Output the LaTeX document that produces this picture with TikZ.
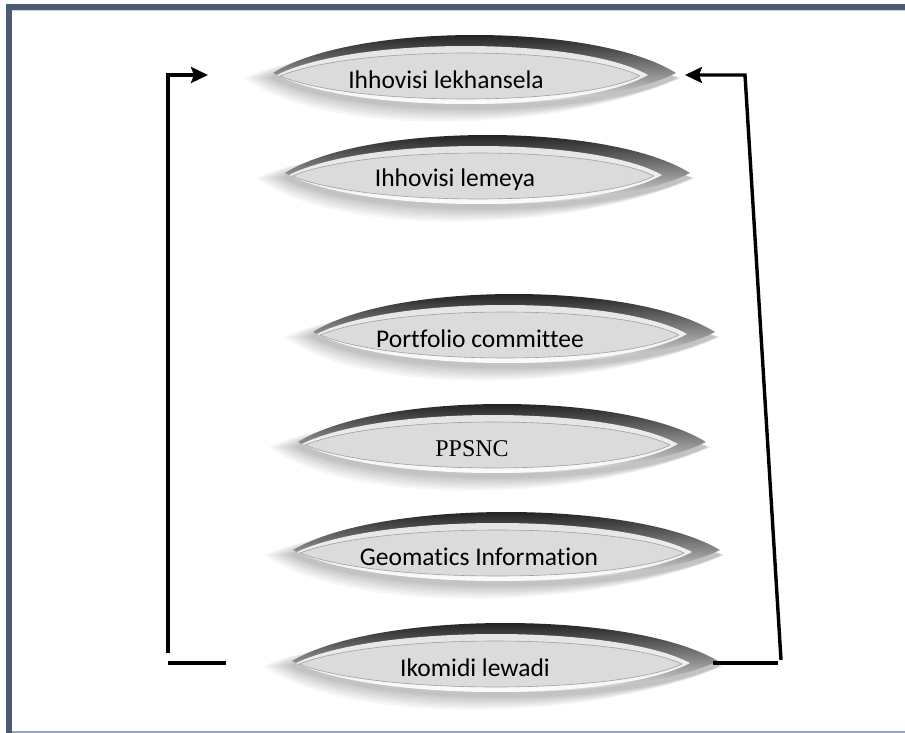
\documentclass[tikz,border=0pt]{standalone}
\usepackage{fontspec}
\setmainfont[Ligatures=NoCommon]{Carlito}
\newfontfamily\serifface{Liberation Serif}
\usetikzlibrary{arrows.meta}

\definecolor{framecol}{HTML}{4B5B75}
\definecolor{framebot}{HTML}{9AA5B5}
\definecolor{facegray}{HTML}{DBDBDB}
\definecolor{bezelgray}{HTML}{E2E2E2}

% pointed oval: left x, right x, tip y, height above tips, depth below tips
\newcommand\lensshape[5]{%
  (#1,#3) .. controls ({#1+0.2*(#2-#1)},{#3-1.333*#4}) and ({#1+0.8*(#2-#1)},{#3-1.333*#4}) .. (#2,#3)
  .. controls ({#1+0.8*(#2-#1)},{#3+1.333*#5}) and ({#1+0.2*(#2-#1)},{#3+1.333*#5}) .. cycle}

% one bevelled oval with its label node
% #1 node name, #2 left tip x, #3 right tip x, #4 tip y, #5 label x, #6 label
\newcommand\ovalitem[6]{%
  \foreach \g in {26,22,18,14,10,6,3}{%
    \fill[black,opacity=0.034] \lensshape{#2-1.1*\g}{#3+0.2*\g}{#4+5}{38+0.5*\g}{30+0.7*\g};}
  \shade[top color=black, middle color=gray!45, bottom color=white] \lensshape{#2}{#3}{#4}{38}{31};
  \shade[top color=gray!25, bottom color=white] \lensshape{#2+4}{#3-28}{#4+2}{29}{29};
  \filldraw[fill=facegray, draw=gray!75, line width=0.6pt] \lensshape{#2+7}{#3-36}{#4+3}{23}{23};
  \node[font=\fontsize{25.5}{30}\selectfont] (#1) at (#5,{#4+7}) {#6};
}

\begin{document}
\begin{tikzpicture}[x=1pt,y=-1pt,
  conn/.style={line width=3.4pt, line cap=butt},
  tip/.style={-{Stealth[length=17pt,width=16pt,inset=3pt]}}]
\useasboundingbox (0,0) rectangle (905,733);
\fill[white] (0,0) rectangle (905,733);

% page frame
\fill[framecol] (6,4) rectangle (905,10);
\fill[framecol] (6,4) rectangle (12,733);
\fill[gray!35] (12,10) rectangle (905,11);
\fill[framebot] (12,731) rectangle (905,733);

% ovals
\ovalitem{n1}{273}{676}{73}{446}{Ihhovisi lekhansela}
\ovalitem{n2}{285}{690}{173}{455}{Ihhovisi lemeya}
\ovalitem{n3}{313}{715}{332}{480}{Portfolio committee}
\ovalitem{n4}{298}{706}{442}{472}{}
\node[font=\serifface\fontsize{24}{29}\selectfont] (n4t) at (472,449) {PPSNC};
\ovalitem{n5}{293}{720}{550}{479}{Geomatics Information}
\ovalitem{n6}{292}{718}{661}{475}{Ikomidi lewadi}

% feedback connectors
\coordinate (lbot) at (168,653);
\coordinate (ltip) at (208,75);
\coordinate (lfoot1) at (168,663);
\coordinate (lfoot2) at (226,663);
\coordinate (rbot) at (781,660);
\coordinate (rcorner) at (745,75);
\coordinate (rtip) at (685,75);
\coordinate (rfoot1) at (713,663);
\coordinate (rfoot2) at (778,663);

\draw[conn,tip] (lbot) |- (ltip);
\draw[conn] (lfoot1) -- (lfoot2);
\draw[conn,tip,line join=miter] (rbot) -- (rcorner) -- (rtip);
\draw[conn] (rfoot1) -- (rfoot2);
\end{tikzpicture}
\end{document}
